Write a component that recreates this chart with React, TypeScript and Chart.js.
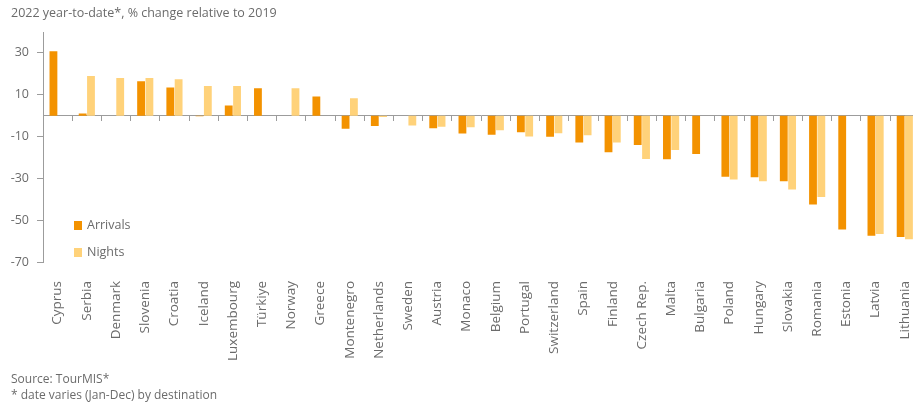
import React, { useEffect, useRef } from "react";
import { Chart, registerables } from "chart.js";
Chart.register(...registerables);

const categories = ["Cyprus", "Serbia", "Denmark", "Slovenia", "Croatia", "Iceland", "Luxembourg", "Türkiye", "Norway", "Greece", "Montenegro", "Netherlands", "Sweden", "Austria", "Monaco", "Belgium", "Portugal", "Switzerland", "Spain", "Finland", "Czech Rep.", "Malta", "Bulgaria", "Poland", "Hungary", "Slovakia", "Romania", "Estonia", "Latvia", "Lithuania"];
const arrivals = [30.8, 1.0, null, 16.4, 13.5, -0.3, 4.9, 13.1, null, 9.1, -6.3, -4.9, null, -6.0, -8.5, -9.2, -7.9, -10.1, -12.9, -17.5, -14.0, -20.9, -18.3, -29.2, -29.5, -31.4, -42.5, -54.5, -57.4, -58.0];
const nights = [null, 19.0, 18.0, 18.0, 17.4, 14.2, 14.2, null, 13.1, null, 8.3, -0.6, -4.7, -5.3, -5.5, -7.0, -10.0, -8.4, -9.4, -12.9, -20.7, -16.4, null, -30.6, -31.4, -35.3, -38.9, null, -56.6, -59.1];
const yTicks = [-70, -50, -30, -10, 10, 30];
const yMin = -70;
const yMax = 40;

const title = "2022 year-to-date*, % change relative to 2019";
const sourceLines = ["Source: TourMIS*", "* date varies (Jan-Dec) by destination"];
const seriesNames = ["Arrivals", "Nights"];
const colors = ["#f39200", "#ffd27a"];

const FONT = "'Open Sans', 'Noto Sans', sans-serif";
const TEXT = "#6b6b6b";
const AXIS = "#9c9c9c";

export default function App() {
  const ref = useRef<HTMLCanvasElement | null>(null);

  useEffect(() => {
    document.body.style.margin = "0";
    const ctx = ref.current!;
    const chart = new Chart(ctx, {
      type: "bar",
      data: {
        labels: categories,
        datasets: [
          { label: seriesNames[0], data: arrivals as any, backgroundColor: colors[0], categoryPercentage: 0.57, barPercentage: 0.94, xAxisID: "x" },
          { label: seriesNames[1], data: nights as any, backgroundColor: colors[1], categoryPercentage: 0.57, barPercentage: 0.94, xAxisID: "x" },
        ],
      },
      options: {
        responsive: false,
        animation: false,
        devicePixelRatio: 1,
        layout: { padding: { top: 32, left: 0, right: 0, bottom: 0 } },
        plugins: { legend: { display: false }, tooltip: { enabled: false } },
        scales: {
          x: {
            type: "category",
            position: "bottom",
            offset: true,
            grid: { display: false, drawTicks: false },
            border: { display: false },
            ticks: {
              autoSkip: false,
              minRotation: 90,
              maxRotation: 90,
              padding: 19,
              color: TEXT,
              font: { family: FONT, size: 13.5 },
            },
            afterFit: (s: any) => { s.height = 141; },
          },
          x2: {
            type: "category",
            position: { y: 0 } as any,
            offset: true,
            grid: { display: true, drawOnChartArea: false, drawTicks: true, tickLength: 5, color: AXIS, offset: true },
            border: { display: true, color: AXIS, width: 1 },
            ticks: { display: false },
          },
          y: {
            type: "linear",
            min: yMin,
            max: yMax,
            afterBuildTicks: (s: any) => { s.ticks = yTicks.map((v) => ({ value: v })); },
            grid: { display: true, drawOnChartArea: false, drawTicks: true, tickLength: 6, color: AXIS },
            border: { display: true, color: AXIS, width: 1 },
            ticks: { padding: 8, color: TEXT, font: { family: FONT, size: 12.5 } },
            afterFit: (s: any) => { s.width = 43; },
          },
        },
      } as any,
    });
    return () => chart.destroy();
  }, []);

  const textStyle: React.CSSProperties = { fontFamily: FONT, fontSize: 12, color: TEXT, lineHeight: "16px", whiteSpace: "nowrap" };

  return (
    <div style={{ position: "relative", width: 913, height: 403, overflow: "hidden", background: "#fff" }}>
      <canvas ref={ref} width={940} height={403} style={{ position: "absolute", left: 0, top: 0, width: 940, height: 403 }} />
      <div style={{ ...textStyle, fontSize: 12.5, position: "absolute", left: 11, top: 5 }}>{title}</div>
      {seriesNames.map((n, i) => (
        <div key={n} style={{ ...textStyle, fontSize: 12.5, position: "absolute", left: 74, top: 217 + i * 27, display: "flex", alignItems: "center" }}>
          <span style={{ display: "inline-block", width: 8, height: 9, background: colors[i], marginRight: 5 }} />
          <span>{n}</span>
        </div>
      ))}
      <div style={{ ...textStyle, position: "absolute", left: 11, top: 371 }}>
        {sourceLines.map((l) => (<div key={l}>{l}</div>))}
      </div>
    </div>
  );
}
